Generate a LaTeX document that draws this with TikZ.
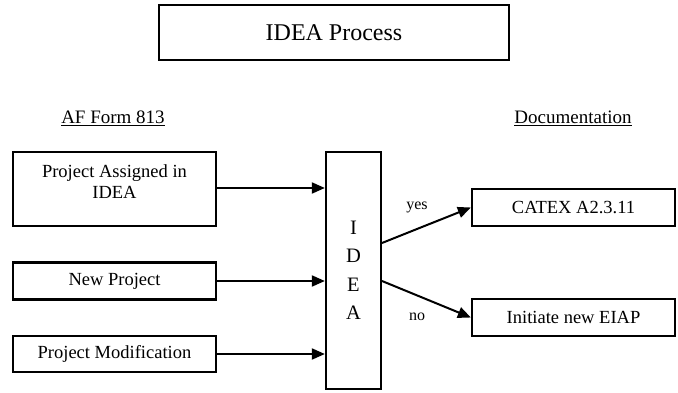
\documentclass[tikz,border=0pt]{standalone}
\usepackage{fontspec}
\setmainfont{Liberation Serif}
\usetikzlibrary{arrows.meta}
\begin{document}
\begin{tikzpicture}[x=1pt,y=-1pt,
  box/.style={draw, line width=2.3pt, inner sep=0pt},
  txt/.style={font=\fontsize{18.5}{21}\selectfont, align=center, inner sep=0pt},
  arr/.style={line width=2pt, -{Triangle[length=13pt,width=11pt]}},
  lbl/.style={font=\fontsize{16}{18}\selectfont, inner sep=0pt}]
\useasboundingbox (0,0) rectangle (678,393);
\node[box, minimum width=350, minimum height=55, font=\fontsize{24}{28}\selectfont] (title) at (334,32.5) {IDEA Process};
\node[txt, font=\fontsize{19}{22}\selectfont] (af) at (113,118) {\underline{AF Form 813}};
\node[txt, font=\fontsize{19}{22}\selectfont] (doc) at (573,118) {\underline{Documentation}};
\node[box, minimum width=203, minimum height=74] (p1) at (114.5,189) {};
\node[txt] (p1t) at (114.5,182) {Project Assigned in\\IDEA};
\node[box, txt, minimum width=203, minimum height=37] (p2) at (114.5,281) {New Project};
\node[box, txt, minimum width=203, minimum height=36] (p3) at (114.5,354) {Project Modification};
\node[box, minimum width=55, minimum height=237, align=center, font=\fontsize{20.5}{28.5}\selectfont] (idea) at (353.5,270.5) {I\\D\\E\\A};
\node[box, txt, minimum width=203, minimum height=37] (catex) at (573.5,207.5) {CATEX A2.3.11};
\node[box, txt, minimum width=203, minimum height=37] (eiap) at (573.5,317.5) {Initiate new EIAP};
\node[lbl] (yes) at (417,207) {yes};
\node[lbl] (no) at (417,317) {no};
\coordinate (ya) at (382,243);
\coordinate (na) at (382,281);
\draw[arr] (p1.east |- 0,188) -- (idea.west |- 0,188);
\draw[arr] (p2.east) -- (p2.east -| idea.west);
\draw[arr] (p3.east) -- (p3.east -| idea.west);
\draw[arr] (ya) -- (catex.west);
\draw[arr] (na) -- (eiap.west);
\end{tikzpicture}
\end{document}
